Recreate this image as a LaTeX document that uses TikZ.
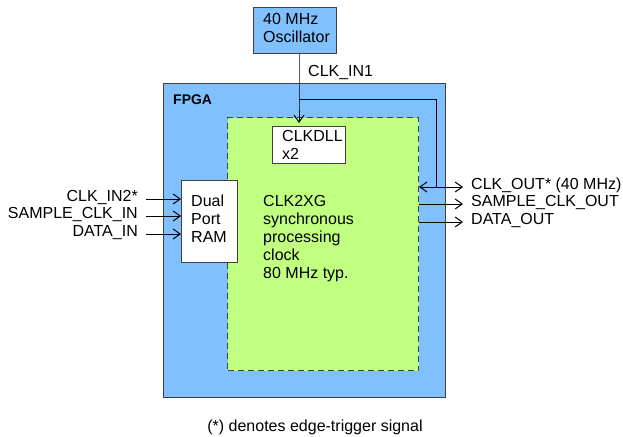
\documentclass[tikz,border=0pt]{standalone}
\usepackage{fontspec}
\setmainfont{Liberation Sans}
\usetikzlibrary{arrows.meta}
\definecolor{fpgablue}{HTML}{80C0FF}
\definecolor{fpgagreen}{HTML}{C0FF80}
\definecolor{edgegray}{HTML}{404040}
\begin{document}
\begin{tikzpicture}[x=1pt,y=-1pt,
  font=\fontsize{16}{18}\selectfont,
  box/.style={draw=edgegray, line width=1.1pt, inner sep=0, anchor=north west},
  lbl/.style={inner sep=0, align=left},
  sig/.style={line width=1pt, -{Straight Barb[length=7pt,width=10pt]}},
  sigboth/.style={line width=1pt, {Straight Barb[length=7pt,width=10pt]}-{Straight Barb[length=7pt,width=10pt]}}]
\useasboundingbox (0,0) rectangle (623,436);
% boxes
\node[box, fill=fpgablue, minimum width=282, minimum height=314] (fpga) at (163,83) {};
\node[box, fill=fpgagreen, dash pattern=on 6pt off 4pt, minimum width=191, minimum height=253] (core) at (227,117) {};
\node[box, fill=fpgablue, minimum width=83, minimum height=46] (osc) at (253,7) {};
\node[box, fill=white, minimum width=73, minimum height=37] (dll) at (272,126) {};
\node[box, fill=white, minimum width=56, minimum height=82] (ram) at (181,180) {};
% texts
\node[lbl, anchor=north west] (osct) at (263,13) {40 MHz\\Oscillator};
\node[lbl, anchor=north west, font=\fontsize{14}{16}\selectfont\bfseries] (fpgat) at (173,95) {FPGA};
\node[lbl, anchor=north west] (dllt) at (282,130) {CLKDLL\\x2};
\node[lbl, anchor=north west] (ramt) at (191,195) {Dual\\Port\\RAM};
\node[lbl, anchor=north west] (coret) at (263,195) {CLK2XG\\synchronous\\processing\\clock\\80 MHz typ.};
\node[lbl, anchor=base west] (clkin1) at (308,77) {CLK\_IN1};
% inputs
\node[lbl, anchor=mid east] (in1) at (138,199) {CLK\_IN2*};
\node[lbl, anchor=mid east] (in2) at (138,216) {SAMPLE\_CLK\_IN};
\node[lbl, anchor=mid east] (in3) at (138,234) {DATA\_IN};
\coordinate (in1s) at (146,199);
\coordinate (in2s) at (146,216);
\coordinate (in3s) at (146,234);
\draw[sig] (in1s) -- (in1s -| ram.west);
\draw[sig] (in2s) -- (in2s -| ram.west);
\draw[sig] (in3s) -- (in3s -| ram.west);
% outputs
\node[lbl, anchor=mid west] (out1) at (471,187) {CLK\_OUT* (40 MHz)};
\node[lbl, anchor=mid west] (out2) at (471,204) {SAMPLE\_CLK\_OUT};
\node[lbl, anchor=mid west] (out3) at (471,222) {DATA\_OUT};
\coordinate (o1) at (463,187);
\coordinate (o2) at (463,204);
\coordinate (o3) at (463,222);
\draw[sigboth] (o1 -| core.east) -- (o1);
\draw[sig] (o2 -| core.east) -- (o2);
\draw[sig] (o3 -| core.east) -- (o3);
% clock
\coordinate (tap) at (299,99);
\coordinate (corner) at (436,99);
\draw[sig] (osc.south -| tap) -- (tap) -- ([yshift=3pt]dll.north -| tap);
\draw[line width=1pt] (tap) -- (corner) -- (corner |- o1);
% footnote
\node[lbl, anchor=base] (note) at (315,431) {(*) denotes edge-trigger signal};
\end{tikzpicture}
\end{document}
